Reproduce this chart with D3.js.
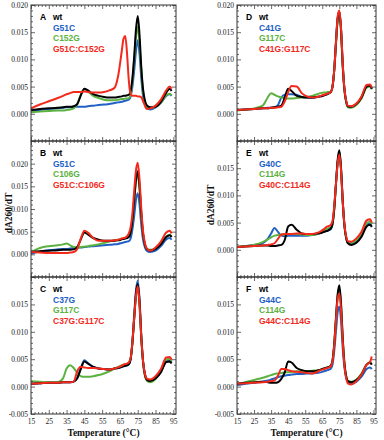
<!DOCTYPE html>
<html><head><meta charset="utf-8">
<script src="https://cdn.jsdelivr.net/npm/d3@7"></script>
<style>body{margin:0;background:#fff}svg{display:block}</style>
</head><body><svg id="c" width="384" height="440"></svg>
<script>
// Temperatures (°C) at which the curves were read
const temps = [15,20,25,30,33,35,37,39,41,43,45,47,50,53,56,59,62,64,66,67,68,69,70,71,72,73,74,75,76,77,78,79,80,82,85,88,91,93,94];
// Values in units of 0.001 dA260/dT
const A_wt   = [0.7,0.9,1.0,1.1,1.2,1.3,1.3,1.4,1.8,3.4,4.6,4.3,3.6,3.3,3.1,3.0,3.0,3.1,3.2,3.3,3.3,3.4,3.5,4.2,6.5,10.5,15.5,18.0,14.5,8.5,4.5,2.5,1.6,1.2,1.3,2.2,3.9,4.6,4.2];
const A_G51C = [0.5,0.7,0.9,1.0,1.1,1.2,1.2,1.3,1.3,1.3,1.3,1.4,1.5,1.6,1.7,1.8,2.0,2.1,2.2,2.3,2.4,2.5,2.6,3.2,5.0,8.0,11.5,13.5,11.0,6.5,3.2,1.8,1.1,0.8,1.2,2.0,3.3,3.6,3.3];
const A_C152G = [0.3,0.4,0.5,0.6,0.6,0.7,0.8,1.0,1.8,3.5,4.5,4.1,3.3,2.9,2.6,2.5,2.5,2.6,2.7,2.7,2.8,2.8,2.9,3.6,6.0,10.0,14.0,16.0,13.0,8.0,4.0,2.2,1.4,1.1,1.3,2.0,3.4,3.7,3.4];
const A_dbl  = [1.0,1.7,2.3,2.9,3.3,3.6,3.8,4.0,4.0,4.0,4.1,4.0,3.9,3.9,4.0,4.3,4.8,7.0,11.5,13.8,14.3,11.0,6.0,3.6,3.3,3.3,3.3,3.2,3.2,3.0,2.3,1.5,0.9,1.0,1.5,2.6,4.3,5.0,4.6];

const B_wt   = [0.5,0.7,0.8,0.9,1.0,1.0,1.0,1.1,1.6,3.3,4.8,4.4,3.6,3.2,3.0,3.0,3.0,3.1,3.3,3.4,3.5,3.6,3.8,4.8,7.5,12.0,16.5,18.3,15.0,9.0,4.5,2.2,1.2,0.8,1.2,2.2,3.8,4.2,3.8];
const B_G51C = [0.1,0.6,0.9,1.1,1.2,1.2,1.3,1.4,1.5,1.5,1.6,1.7,1.8,1.9,2.0,2.1,2.2,2.3,2.5,2.6,2.7,2.8,2.9,3.5,5.5,8.5,12.0,13.5,11.0,6.5,3.2,1.6,0.8,0.5,0.8,1.8,3.3,3.6,3.2];
const B_C106G = [0.5,1.4,1.8,2.0,2.2,2.4,2.0,1.6,1.5,1.6,1.7,1.8,2.0,2.2,2.5,2.8,3.1,3.2,3.4,3.5,3.6,3.7,3.9,4.8,7.5,12.0,16.0,17.5,14.5,8.5,4.3,2.2,1.3,1.0,1.4,2.4,3.9,4.3,3.9];
const B_dbl  = [0.5,0.4,0.3,0.3,0.3,0.3,0.4,0.5,1.2,3.5,5.2,4.8,3.6,3.0,3.0,3.0,3.1,3.2,3.5,3.6,3.7,4.0,4.6,6.0,9.0,14.0,18.5,20.2,16.5,10.0,5.0,2.5,1.3,0.8,1.5,2.8,4.8,5.2,4.6];

const C_wt   = [0.5,0.6,0.7,0.7,0.8,0.8,0.8,0.9,1.5,3.2,4.6,4.2,3.6,3.3,3.2,3.1,3.3,3.4,3.6,3.7,3.8,3.9,4.1,5.0,8.0,12.5,17.0,18.7,15.5,9.0,4.5,2.2,1.3,1.0,1.5,2.6,4.5,4.6,4.2];
const C_C37G = [0.5,0.6,0.7,0.7,0.8,0.8,0.8,0.9,1.6,3.4,4.8,4.3,3.6,3.3,3.2,3.1,3.3,3.4,3.6,3.7,3.8,3.9,4.1,5.0,8.2,13.0,17.5,19.3,16.0,9.3,4.6,2.3,1.4,1.1,1.6,2.7,4.6,4.8,4.4];
const C_G117C = [1.0,0.9,0.8,0.8,1.5,3.3,3.9,3.4,2.5,1.9,1.8,1.8,1.9,2.1,2.4,2.8,3.3,3.6,3.9,4.0,4.1,4.2,4.4,5.2,8.0,12.5,16.5,18.0,14.8,8.8,4.3,2.0,1.1,0.8,1.4,2.8,4.9,5.1,4.6];
const C_dbl  = [0.5,0.6,0.7,0.7,0.8,0.8,0.8,0.9,2.8,3.6,3.5,3.4,3.4,3.3,3.2,3.1,3.3,3.5,3.8,4.0,4.1,4.2,4.4,5.2,8.2,12.5,16.5,18.3,15.0,9.0,4.6,2.4,1.5,1.3,1.9,3.2,5.3,5.4,4.9];

const D_wt   = [0.7,0.8,0.9,1.0,1.0,1.1,1.2,1.3,1.5,3.0,4.6,4.2,3.3,3.1,3.0,3.0,3.1,3.2,3.4,3.5,3.6,3.8,4.0,5.0,8.0,13.0,17.5,18.8,15.5,9.0,4.5,2.3,1.4,1.3,1.8,3.0,5.0,5.2,4.6];
const D_C41G = [0.7,0.8,0.9,1.0,1.1,1.1,1.2,1.6,3.0,3.5,3.6,3.6,3.5,3.1,3.0,2.9,3.1,3.2,3.4,3.5,3.6,3.8,4.0,5.0,8.0,13.0,17.5,18.8,15.5,9.0,4.5,2.3,1.4,1.3,1.8,3.0,5.0,5.2,4.6];
const D_G117C = [0.6,0.8,1.0,1.5,3.0,3.8,3.5,3.2,3.0,2.9,2.8,2.8,2.9,3.0,3.1,3.3,3.6,3.8,3.9,3.9,4.0,4.0,4.1,5.0,8.0,12.5,17.0,18.5,15.0,8.5,4.2,2.1,1.2,1.1,1.6,2.8,4.8,5.0,4.5];
const D_dbl  = [0.7,0.8,0.9,1.0,1.0,1.1,1.1,1.2,1.3,2.3,4.0,5.1,5.0,3.8,3.2,3.0,3.1,3.3,3.5,3.6,3.7,3.8,4.0,5.0,8.0,13.0,17.8,19.0,15.8,9.2,4.6,2.4,1.5,1.4,1.9,3.2,5.3,5.4,4.8];

const E_wt   = [0.5,0.6,0.7,0.8,0.8,0.7,0.7,0.8,0.9,1.8,4.3,4.6,3.7,3.0,2.9,2.9,3.0,3.1,3.3,3.4,3.5,3.7,3.9,4.8,7.5,12.0,16.5,18.3,15.0,9.0,4.5,2.2,1.2,0.9,1.3,2.4,4.3,4.6,4.2];
const E_G40C = [0.5,0.7,0.9,1.2,2.0,3.0,4.0,3.3,2.6,2.5,2.6,2.6,2.6,2.6,2.6,2.7,2.9,3.1,3.3,3.4,3.5,3.6,3.8,4.7,7.5,12.0,16.0,18.0,14.8,8.8,4.4,2.2,1.3,1.1,1.5,2.6,4.6,4.8,4.4];
const E_C114G = [0.5,0.7,0.9,1.4,1.9,2.3,2.6,2.7,2.8,2.8,2.9,2.9,2.9,2.8,2.7,2.7,2.9,3.2,3.6,3.8,3.9,4.0,4.1,4.8,7.5,12.0,16.0,18.0,14.8,8.8,4.4,2.3,1.4,1.3,1.8,3.0,4.9,5.2,4.7];
const E_dbl  = [0.5,0.6,0.7,0.8,0.9,1.0,1.2,2.0,2.8,2.9,2.9,2.9,3.0,3.0,2.9,2.9,3.1,3.4,3.8,4.1,4.3,4.4,4.6,5.3,8.0,12.0,15.8,17.5,14.5,8.8,4.6,2.5,1.6,1.5,2.1,3.3,5.4,5.6,5.0];

const F_wt   = [0.5,0.7,0.8,0.9,0.8,0.7,0.7,0.8,1.4,2.6,4.6,4.4,3.4,3.0,2.8,2.8,2.9,3.1,3.3,3.4,3.5,3.6,3.8,4.8,7.8,12.5,16.8,18.5,15.2,8.8,4.2,1.9,1.0,0.8,1.2,2.2,4.0,4.4,4.0];
const F_G44C = [0.3,0.5,0.7,0.9,1.1,1.3,1.5,1.7,1.9,2.0,2.1,2.2,2.3,2.3,2.4,2.4,2.5,2.6,2.8,2.9,3.0,3.1,3.3,4.0,6.5,10.0,13.5,14.6,12.0,7.0,3.5,1.6,0.8,0.5,0.9,1.8,3.2,3.5,3.2];
const F_C114G = [0.5,0.8,1.2,1.6,1.9,2.1,2.3,2.4,2.5,2.6,2.6,2.7,2.8,2.8,2.8,2.9,3.0,3.1,3.3,3.4,3.5,3.6,3.8,4.7,7.5,12.0,16.5,17.9,14.8,8.8,4.3,2.0,1.1,0.9,1.3,2.4,4.0,4.5,4.1];
const F_dbl  = [0.5,0.6,0.7,0.8,0.9,1.0,1.1,2.0,3.2,3.2,3.0,2.8,2.7,2.6,2.5,2.4,2.7,3.0,3.2,3.3,3.4,3.5,3.7,4.6,7.5,12.0,16.0,17.0,14.0,8.2,3.8,1.6,0.6,0.4,1.0,2.2,4.0,4.5,5.5];

const seriesColors = ["#000000", "#2160c4", "#5cb240", "#f3291c"];
const xTickLabels = [15,25,35,45,55,65,75,85,95];

const panels = [
  {letter:"A", col:0, row:0, names:["wt","G51C","C152G","G51C:C152G"], data:[A_wt,A_G51C,A_C152G,A_dbl], yDomain:[-0.005,0.020], yLabels:[0,0.005,0.010,0.015,0.020]},
  {letter:"B", col:0, row:1, names:["wt","G51C","C106G","G51C:C106G"], data:[B_wt,B_G51C,B_C106G,B_dbl], yDomain:[-0.005,0.025], yLabels:[0,0.005,0.010,0.015,0.020]},
  {letter:"C", col:0, row:2, names:["wt","C37G","G117C","C37G:G117C"], data:[C_wt,C_C37G,C_G117C,C_dbl], yDomain:[-0.005,0.020], yLabels:[-0.005,0,0.005,0.010,0.015]},
  {letter:"D", col:1, row:0, names:["wt","C41G","G117C","C41G:G117C"], data:[D_wt,D_C41G,D_G117C,D_dbl], yDomain:[-0.005,0.020], yLabels:[0,0.005,0.010,0.015,0.020]},
  {letter:"E", col:1, row:1, names:["wt","G40C","C114G","G40C:C114G"], data:[E_wt,E_G40C,E_C114G,E_dbl], yDomain:[-0.005,0.020], yLabels:[0,0.005,0.010,0.015]},
  {letter:"F", col:1, row:2, names:["wt","G44C","C114G","G44C:C114G"], data:[F_wt,F_G44C,F_C114G,F_dbl], yDomain:[-0.005,0.020], yLabels:[-0.005,0,0.005,0.010,0.015]}
];

const colX = [[31,176],[237,376]];
const rowY = [[5,141],[141,277],[277,414]];
const xDomain = [15, 96.5];
const drawOrder = [1,2,0,3];

const svg = d3.select("#c");
const serif = "'Liberation Serif','Times New Roman',serif";
const sans = "'Liberation Sans',Arial,sans-serif";

panels.forEach((p, pi) => {
  const [x0,x1] = colX[p.col];
  const [y0,y1] = rowY[p.row];
  const x = d3.scaleLinear().domain(xDomain).range([x0,x1]);
  const y = d3.scaleLinear().domain(p.yDomain).range([y1,y0]);
  const g = svg.append("g");

  const clipId = "clip"+pi;
  svg.append("clipPath").attr("id",clipId).append("rect")
    .attr("x",x0).attr("y",y0).attr("width",x1-x0).attr("height",y1-y0);

  // lines
  const line = d3.line().x((d,i)=>x(temps[i])).y(d=>y(d*1e-3)).curve(d3.curveMonotoneX);
  drawOrder.forEach(si => {
    g.append("path").datum(p.data[si])
      .attr("clip-path","url(#"+clipId+")")
      .attr("fill","none").attr("stroke",seriesColors[si])
      .attr("stroke-width",2).attr("stroke-linejoin","round")
      .attr("d",line);
  });

  // axes (inward ticks)
  const xMajor = d3.range(15, 96, 10);
  const xMinor = d3.range(15, 96, 2).filter(v => (v-15)%10 !== 0);
  const yMajor = d3.range(-5, Math.round(p.yDomain[1]*1000)+1, 5).map(v=>v/1000);
  const yMinor = d3.range(-5, Math.round(p.yDomain[1]*1000)+1, 1).filter(v=>v%5!==0).map(v=>v/1000);
  const axStyle = sel => { sel.select(".domain").remove(); sel.selectAll("line").attr("stroke","#444").attr("stroke-width",0.8); };

  const isBottom = p.row === 2;
  const bx = g.append("g").attr("transform",`translate(0,${y1})`)
    .call(d3.axisBottom(x).tickValues(isBottom?xTickLabels:xMajor).tickSizeInner(-4).tickSizeOuter(0).tickPadding(5)
      .tickFormat(isBottom? d3.format("d") : ""));
  bx.call(axStyle);
  bx.selectAll("text").attr("font-family",serif).attr("font-size",7.5).attr("fill","#222");
  g.append("g").attr("transform",`translate(0,${y1})`)
    .call(d3.axisBottom(x).tickValues(xMinor).tickSizeInner(-2).tickSizeOuter(0).tickFormat("")).call(axStyle);
  g.append("g").attr("transform",`translate(0,${y0})`)
    .call(d3.axisTop(x).tickValues(xMajor).tickSizeInner(-4).tickSizeOuter(0).tickFormat("")).call(axStyle);
  g.append("g").attr("transform",`translate(0,${y0})`)
    .call(d3.axisTop(x).tickValues(xMinor).tickSizeInner(-2).tickSizeOuter(0).tickFormat("")).call(axStyle);

  const ly = g.append("g").attr("transform",`translate(${x0},0)`)
    .call(d3.axisLeft(y).tickValues(yMajor).tickSizeInner(-4).tickSizeOuter(0).tickPadding(3)
      .tickFormat(v => p.yLabels.some(l=>Math.abs(l-v)<1e-9) ? d3.format(".3f")(v).replace("−","-") : ""));
  ly.call(axStyle);
  ly.selectAll("text").attr("font-family",serif).attr("font-size",7.5).attr("fill","#222");
  g.append("g").attr("transform",`translate(${x0},0)`)
    .call(d3.axisLeft(y).tickValues(yMinor).tickSizeInner(-2).tickSizeOuter(0).tickFormat("")).call(axStyle);
  g.append("g").attr("transform",`translate(${x1},0)`)
    .call(d3.axisRight(y).tickValues(yMajor).tickSizeInner(-4).tickSizeOuter(0).tickFormat("")).call(axStyle);
  g.append("g").attr("transform",`translate(${x1},0)`)
    .call(d3.axisRight(y).tickValues(yMinor).tickSizeInner(-2).tickSizeOuter(0).tickFormat("")).call(axStyle);

  g.append("rect").attr("x",x0).attr("y",y0).attr("width",x1-x0).attr("height",y1-y0)
    .attr("fill","none").attr("stroke","#333").attr("stroke-width",1);

  // legend
  const lx = x0 + 9, tx = x0 + 22, ty = y0 + 15;
  g.append("text").attr("x",lx).attr("y",ty).text(p.letter)
    .attr("font-family",sans).attr("font-weight","bold").attr("font-size",8.5).attr("fill","#000");
  p.names.forEach((n,i) => {
    g.append("text").attr("x",tx).attr("y",ty + i*10.5).text(n)
      .attr("font-family",sans).attr("font-weight","bold").attr("font-size",8.5).attr("fill",seriesColors[i]);
  });
});

// axis titles
[[103.5, 436],[306.5, 436]].forEach(([cx,cy]) => {
  svg.append("text").attr("x",cx).attr("y",cy).attr("text-anchor","middle")
    .attr("font-family",serif).attr("font-weight","bold").attr("font-size",9.5).attr("fill","#111")
    .text("Temperature (°C)");
});
[[12, 213],[214, 205]].forEach(([cx,cy]) => {
  svg.append("text").attr("transform",`translate(${cx},${cy}) rotate(-90)`).attr("text-anchor","middle")
    .attr("font-family",serif).attr("font-weight","bold").attr("font-size",9.5).attr("fill","#111")
    .text("dA260/dT");
});
</script>
</body></html>
